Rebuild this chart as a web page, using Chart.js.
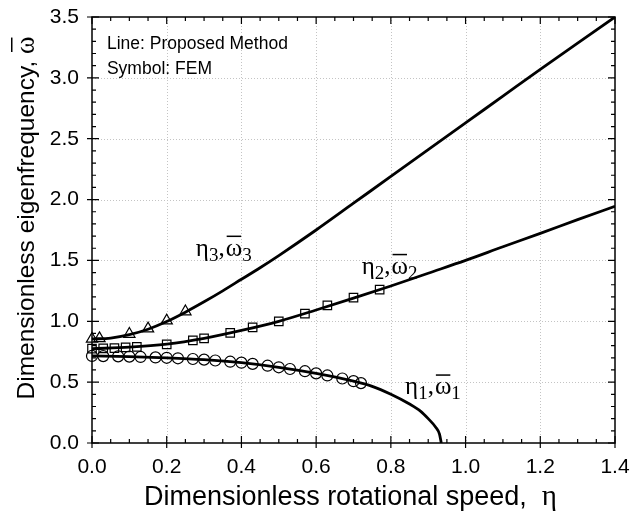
<!DOCTYPE html>
<html>
<head>
<meta charset="utf-8">
<script src="https://cdn.jsdelivr.net/npm/chart.js@4.4.1/dist/chart.umd.min.js"></script>
<style>
  html, body { margin: 0; padding: 0; background: #fff; }
  #wrap { width: 631px; height: 514px; }
</style>
</head>
<body>
<div id="wrap"><canvas id="chart" width="631" height="514"></canvas></div>
<script>
'use strict';

// Mode 3 - proposed method (line) and FEM (triangles)
const eta3 = [0, 0.05, 0.1, 0.15, 0.2, 0.25, 0.3, 0.35, 0.4, 0.45, 0.5, 0.6, 0.7, 0.8, 0.9, 1.0, 1.1, 1.2, 1.3, 1.4];
const omega3 = [0.855, 0.862, 0.89, 0.935, 0.998, 1.075, 1.16, 1.25, 1.345, 1.44, 1.54, 1.75, 1.97, 2.19, 2.41, 2.63, 2.85, 3.07, 3.285, 3.5];
const etaFem3 = [0, 0.02, 0.1, 0.15, 0.2, 0.25];
const omegaFem3 = [0.855, 0.86, 0.895, 0.94, 1.005, 1.08];

// Mode 2 - squares
const eta2 = [0, 0.1, 0.2, 0.3, 0.4, 0.5, 0.6, 0.7, 0.8, 0.9, 1.0, 1.1, 1.2, 1.3, 1.4];
const omega2 = [0.775, 0.787, 0.812, 0.86, 0.925, 1.0, 1.093, 1.19, 1.29, 1.395, 1.5, 1.612, 1.722, 1.835, 1.945];
const etaFem2 = [0, 0.03, 0.06, 0.09, 0.12, 0.2, 0.27, 0.3, 0.37, 0.43, 0.5, 0.57, 0.63, 0.7, 0.77];
const omegaFem2 = [0.775, 0.777, 0.78, 0.785, 0.79, 0.81, 0.843, 0.86, 0.905, 0.95, 1.0, 1.063, 1.13, 1.195, 1.26];

// Mode 1 - circles
const eta1 = [0, 0.1, 0.2, 0.3, 0.4, 0.5, 0.6, 0.7, 0.75, 0.8, 0.85, 0.88, 0.9, 0.92, 0.93, 0.935];
const omega1 = [0.715, 0.71, 0.70, 0.685, 0.66, 0.622, 0.572, 0.508, 0.465, 0.40, 0.32, 0.26, 0.20, 0.13, 0.075, 0.0];
const etaFem1 = [0, 0.03, 0.07, 0.1, 0.13, 0.17, 0.2, 0.23, 0.27, 0.3, 0.33, 0.37, 0.4, 0.43, 0.47, 0.5, 0.53, 0.57, 0.6, 0.63, 0.67, 0.7, 0.72];
const omegaFem1 = [0.715, 0.714, 0.712, 0.71, 0.707, 0.703, 0.70, 0.696, 0.69, 0.685, 0.678, 0.668, 0.66, 0.65, 0.635, 0.622, 0.608, 0.59, 0.572, 0.555, 0.53, 0.508, 0.492];

// Axis ticks
const xMajor = [0, 0.2, 0.4, 0.6, 0.8, 1.0, 1.2, 1.4];
const yMajor = [0, 0.5, 1.0, 1.5, 2.0, 2.5, 3.0, 3.5];
const xMinorStep = 0.05;
const yMinorStep = 0.1;

// Curve labels: [mode number, eta, omega] = left end / baseline of the text
const curveLabels = [['3', 0.278, 1.54], ['2', 0.722, 1.39], ['1', 0.838, 0.40]];
const noteLines = ['Line: Proposed Method', 'Symbol: FEM'];

const SANS = '"Liberation Sans", Arial, sans-serif';
const SERIF = '"Liberation Serif", "Times New Roman", serif';

function pts(xs, ys) {
  return xs.map((x, i) => ({ x, y: ys[i] }));
}

function lineSet(xs, ys) {
  return {
    data: pts(xs, ys),
    showLine: true,
    borderColor: '#000',
    borderWidth: 2.8,
    pointRadius: 0,
    cubicInterpolationMode: 'monotone',
    fill: false
  };
}

function femSet(xs, ys, style, radius) {
  return {
    data: pts(xs, ys),
    showLine: false,
    pointStyle: style,
    pointRadius: radius,
    pointBorderColor: '#000',
    pointBackgroundColor: 'rgba(0,0,0,0)',
    pointBorderWidth: 1.2,
    clip: false
  };
}

// draws "η_n, ω̄_n" with sub-scripts
function drawModeLabel(ctx, x, y, n) {
  const main = '25px ' + SERIF;
  const sub = '19px ' + SERIF;
  ctx.font = main;
  ctx.fillText('η', x, y);
  x += ctx.measureText('η').width;
  ctx.font = sub;
  ctx.fillText(n, x, y + 5);
  x += ctx.measureText(n).width;
  ctx.font = main;
  ctx.fillText(',', x, y);
  x += ctx.measureText(',').width + 1;
  const ww = ctx.measureText('ω').width;
  ctx.fillText('ω', x, y);
  ctx.fillRect(x + 1, y - 20, ww - 2, 1.5);
  x += ww;
  ctx.font = sub;
  ctx.fillText(n, x, y + 5);
}

const framePlugin = {
  id: 'frame',
  beforeDatasetsDraw(chart) {
    const { ctx, chartArea: a, scales: { x, y } } = chart;
    ctx.save();
    ctx.strokeStyle = '#c4c4c4';
    ctx.lineWidth = 1;
    ctx.setLineDash([1, 2]);
    xMajor.slice(1, -1).forEach(v => {
      const px = Math.round(x.getPixelForValue(v)) + 0.5;
      ctx.beginPath(); ctx.moveTo(px, a.top); ctx.lineTo(px, a.bottom); ctx.stroke();
    });
    yMajor.slice(1, -1).forEach(v => {
      const py = Math.round(y.getPixelForValue(v)) + 0.5;
      ctx.beginPath(); ctx.moveTo(a.left, py); ctx.lineTo(a.right, py); ctx.stroke();
    });
    ctx.restore();
  },
  afterDraw(chart) {
    const { ctx, chartArea: a, scales: { x, y } } = chart;
    ctx.save();
    ctx.strokeStyle = '#000';
    ctx.lineWidth = 1.5;
    ctx.strokeRect(a.left, a.top, a.right - a.left, a.bottom - a.top);

    // ticks, inside on all four sides, majors also poke out on left/bottom
    ctx.lineWidth = 1.2;
    ctx.beginPath();
    for (let i = 0; i <= Math.round(1.4 / xMinorStep); i++) {
      const v = i * xMinorStep;
      const major = i % 4 === 0;
      const px = x.getPixelForValue(v);
      const len = major ? 7 : 4;
      ctx.moveTo(px, a.bottom + (major ? 5 : 0)); ctx.lineTo(px, a.bottom - len);
      ctx.moveTo(px, a.top); ctx.lineTo(px, a.top + len);
    }
    for (let i = 0; i <= Math.round(3.5 / yMinorStep); i++) {
      const v = i * yMinorStep;
      const major = i % 5 === 0;
      const py = y.getPixelForValue(v);
      const len = major ? 7 : 4;
      ctx.moveTo(a.left - (major ? 5 : 0), py); ctx.lineTo(a.left + len, py);
      ctx.moveTo(a.right, py); ctx.lineTo(a.right - len, py);
    }
    ctx.stroke();

    ctx.fillStyle = '#000';
    ctx.textBaseline = 'alphabetic';
    ctx.textAlign = 'left';

    // notes in the top left corner
    ctx.font = '17.5px ' + SANS;
    ctx.fillText(noteLines[0], x.getPixelForValue(0.04), y.getPixelForValue(3.24));
    ctx.fillText(noteLines[1], x.getPixelForValue(0.04), y.getPixelForValue(3.03));

    // curve labels
    curveLabels.forEach(([n, ex, ey]) => {
      drawModeLabel(ctx, x.getPixelForValue(ex), y.getPixelForValue(ey), n);
    });

    // x axis title
    const xt = 'Dimensionless rotational speed,  ';
    ctx.font = '27px ' + SANS;
    const w1 = ctx.measureText(xt).width;
    ctx.font = '29px ' + SERIF;
    const w2 = ctx.measureText('η').width;
    const tx = (a.left + a.right) / 2 - (w1 + w2) / 2 - 3;
    const ty = 505;
    ctx.font = '27px ' + SANS;
    ctx.fillText(xt, tx, ty);
    ctx.font = '29px ' + SERIF;
    ctx.fillText('η', tx + w1, ty);

    // y axis title, rotated
    const yt = 'Dimensionless eigenfrequency, ';
    ctx.translate(34, (a.top + a.bottom) / 2 - 12);
    ctx.rotate(-Math.PI / 2);
    ctx.font = '24.5px ' + SANS;
    const v1 = ctx.measureText(yt).width;
    ctx.font = '26.5px ' + SERIF;
    const v2 = ctx.measureText('ω').width;
    const sx = -(v1 + v2) / 2;
    ctx.font = '24.5px ' + SANS;
    ctx.fillText(yt, sx, 0);
    ctx.font = '26.5px ' + SERIF;
    ctx.fillText('ω', sx + v1, 0);
    ctx.fillRect(sx + v1 + 2, -23, v2 - 3, 1.5);
    ctx.restore();
  }
};

const tickFont = { family: SANS, size: 21 };

new Chart(document.getElementById('chart'), {
  type: 'scatter',
  data: {
    datasets: [
      lineSet(eta1, omega1),
      lineSet(eta2, omega2),
      lineSet(eta3, omega3),
      femSet(etaFem1, omegaFem1, 'circle', 5.5),
      femSet(etaFem2, omegaFem2, 'rect', 6),
      femSet(etaFem3, omegaFem3, 'triangle', 6.5)
    ]
  },
  options: {
    responsive: false,
    devicePixelRatio: 1,
    animation: false,
    layout: { padding: { left: 0, top: 17, right: 16, bottom: 0 } },
    plugins: {
      legend: { display: false },
      tooltip: { enabled: false }
    },
    scales: {
      x: {
        type: 'linear',
        min: 0,
        max: 1.4,
        afterFit: s => { s.height = 71; s.paddingLeft = 0; s.paddingRight = 0; },
        afterBuildTicks: s => { s.ticks = xMajor.map(v => ({ value: v })); },
        ticks: {
          color: '#000',
          font: tickFont,
          padding: 12,
          maxRotation: 0,
          callback: v => v.toFixed(1)
        },
        grid: { display: false, drawTicks: false },
        border: { display: false }
      },
      y: {
        type: 'linear',
        min: 0,
        max: 3.5,
        afterFit: s => { s.width = 92; s.paddingTop = 0; s.paddingBottom = 0; },
        afterBuildTicks: s => { s.ticks = yMajor.map(v => ({ value: v })); },
        ticks: {
          color: '#000',
          font: tickFont,
          padding: 13,
          callback: v => v.toFixed(1)
        },
        grid: { display: false, drawTicks: false },
        border: { display: false }
      }
    }
  },
  plugins: [framePlugin]
});
</script>
</body>
</html>
